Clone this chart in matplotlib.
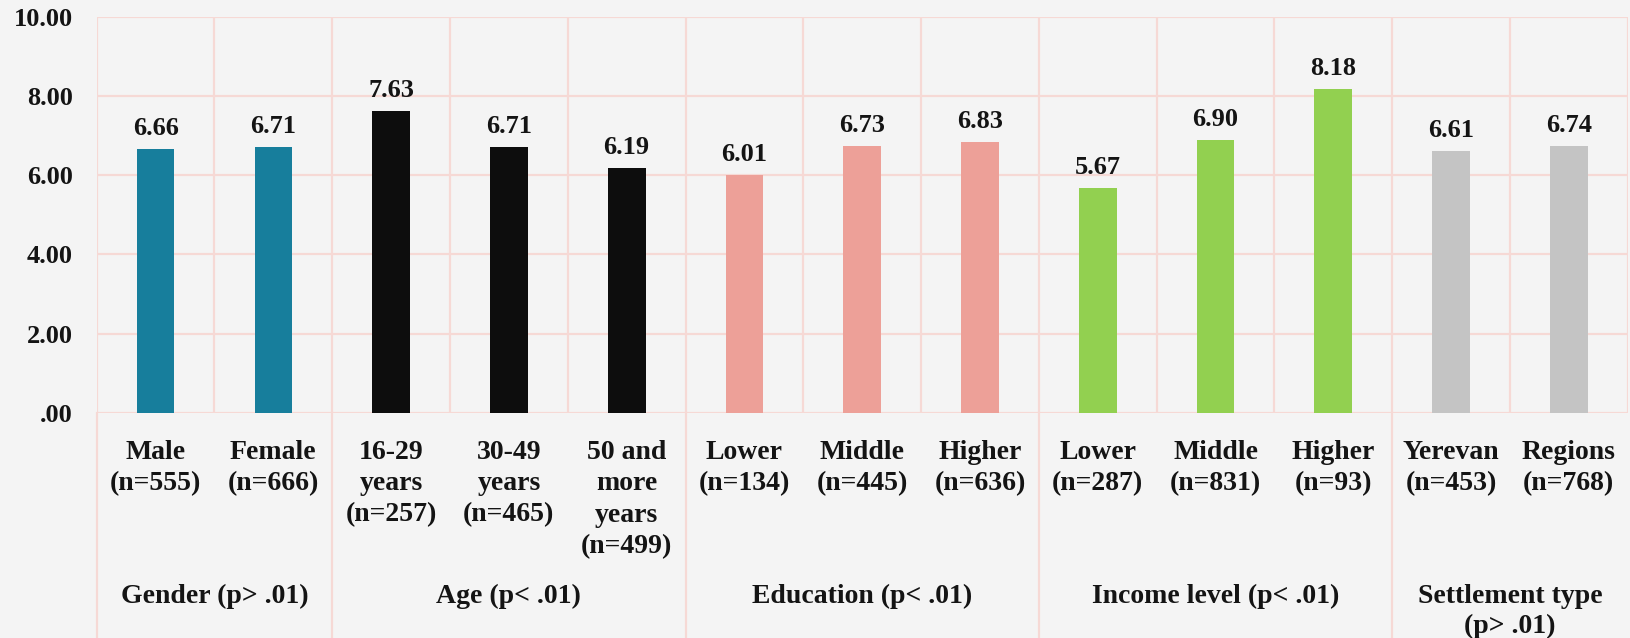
import matplotlib
matplotlib.use("Agg")
import matplotlib.pyplot as plt
from matplotlib.transforms import blended_transform_factory

categories = ["Male\n(n=555)", "Female\n(n=666)", "16-29\nyears\n(n=257)",
              "30-49\nyears\n(n=465)", "50 and\nmore\nyears\n(n=499)",
              "Lower\n(n=134)", "Middle\n(n=445)", "Higher\n(n=636)",
              "Lower\n(n=287)", "Middle\n(n=831)", "Higher\n(n=93)",
              "Yerevan\n(n=453)", "Regions\n(n=768)"]
values = [6.66, 6.71, 7.63, 6.71, 6.19, 6.01, 6.73, 6.83, 5.67, 6.90, 8.18, 6.61, 6.74]
groups = ["Gender (p> .01)", "Age (p< .01)", "Education (p< .01)",
          "Income level (p< .01)", "Settlement type\n(p> .01)"]
group_sizes = [2, 3, 3, 3, 2]
group_colors = ["#177E9C", "#0D0D0D", "#EDA098", "#92D050", "#C4C4C4"]
yticks = [0, 2, 4, 6, 8, 10]
ytick_labels = [".00", "2.00", "4.00", "6.00", "8.00", "10.00"]

FONT = "Liberation Serif"
TXT = "#141414"
GRID = "#F6D9D5"
BG = "#F4F4F4"

W, H = 1630, 638
fig = plt.figure(figsize=(W / 100, H / 100), dpi=100, facecolor=BG)
left, right, top, bottom = 96.7, 1627.7, 16.7, 413.0
ax = fig.add_axes([left / W, 1 - bottom / H, (right - left) / W, (bottom - top) / H])
ax.set_facecolor(BG)

colors = []
for c, n in zip(group_colors, group_sizes):
    colors += [c] * n

x = list(range(len(values)))
ax.bar(x, values, width=0.32, color=colors, zorder=3)

ax.set_xlim(-0.5, len(values) - 0.5)
ax.set_ylim(0, 10)
ax.set_yticks(yticks)
ax.set_yticklabels(ytick_labels, fontfamily=FONT, fontweight="bold", fontsize=19, color=TXT)
ax.tick_params(axis="y", length=0, pad=17)
ax.set_xticks([])
for s in ax.spines.values():
    s.set_visible(False)

# grid
for yv in yticks:
    ax.axhline(yv, color=GRID, lw=1.6, zorder=1)
for b in range(len(values) + 1):
    ax.axvline(b - 0.5, color=GRID, lw=1.6, zorder=1)

# value labels
for xi, v in zip(x, values):
    ax.annotate(f"{v:.2f}", (xi, v), xytext=(0, 10), textcoords="offset points",
                ha="center", va="baseline", fontfamily=FONT, fontweight="bold",
                fontsize=19, color=TXT)

# category labels and group separators
tr = blended_transform_factory(ax.transData, fig.transFigure)
for xi, lab in zip(x, categories):
    ax.text(xi, 1 - 440 / H, lab, transform=tr, ha="center", va="top",
            fontfamily=FONT, fontweight="bold", fontsize=20, color=TXT,
            linespacing=1.33, multialignment="center")

bounds = [-0.5]
start = 0
for n in group_sizes:
    start += n
    bounds.append(start - 0.5)
for b in bounds[:-1]:
    ax.plot([b, b], [0, 1 - bottom / H], transform=tr, color=GRID, lw=1.6,
            clip_on=False, zorder=1)

for i, g in enumerate(groups):
    cx = (bounds[i] + bounds[i + 1]) / 2
    ax.text(cx, 1 - 584 / H, g, transform=tr, ha="center", va="top",
            fontfamily=FONT, fontweight="bold", fontsize=20, color=TXT,
            linespacing=1.25, multialignment="center")

fig.savefig("out.png", dpi=100, facecolor=BG)
